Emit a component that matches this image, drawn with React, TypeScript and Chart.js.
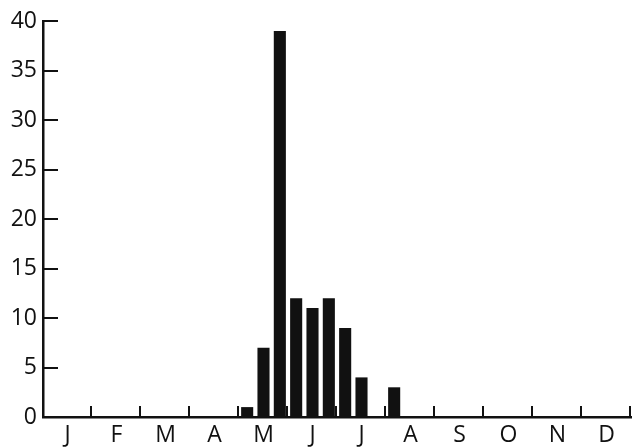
import React, { useEffect, useRef } from "react";
import { Chart, registerables } from "chart.js";

Chart.register(...registerables);

const MONTH_LETTERS = ["J", "F", "M", "A", "M", "J", "J", "A", "S", "O", "N", "D"];
const MONTH_NAMES = ["Jan", "Feb", "Mar", "Apr", "May", "Jun", "Jul", "Aug", "Sep", "Oct", "Nov", "Dec"];
const DEKADS = ["1", "2", "3"];
const CATEGORIES = MONTH_NAMES.flatMap((m) => DEKADS.map((d) => `${m} ${d}`));

// counts per 10-day period (three per month)
const JAN = [0, 0, 0];
const FEB = [0, 0, 0];
const MAR = [0, 0, 0];
const APR = [0, 0, 0];
const MAY = [1, 7, 39];
const JUN = [12, 11, 12];
const JUL = [9, 4, 0];
const AUG = [3, 0, 0];
const SEP = [0, 0, 0];
const OCT = [0, 0, 0];
const NOV = [0, 0, 0];
const DEC = [0, 0, 0];
const VALUES = [...JAN, ...FEB, ...MAR, ...APR, ...MAY, ...JUN, ...JUL, ...AUG, ...SEP, ...OCT, ...NOV, ...DEC];

const Y_MIN = 0;
const Y_MAX = 40;
const Y_STEP = 5;

const FONT = { family: "'Open Sans', 'Noto Sans', sans-serif", size: 23 };

const inwardTicks = {
  id: "inwardTicks",
  afterDraw(chart: any) {
    const { ctx } = chart;
    const x = chart.scales.x;
    const y = chart.scales.y;
    ctx.save();
    ctx.strokeStyle = "#111";
    ctx.lineWidth = 2;
    ctx.beginPath();
    // month boundary ticks on x axis (pointing up)
    for (let m = 1; m <= MONTH_LETTERS.length; m++) {
      const px = Math.round(x.getPixelForValue(m * DEKADS.length - 0.5)) - 1;
      ctx.moveTo(px, y.bottom);
      ctx.lineTo(px, y.bottom - 11);
    }
    // y ticks pointing right
    for (const t of y.ticks) {
      if (t.value === 0) continue;
      const py = Math.round(y.getPixelForValue(t.value));
      ctx.moveTo(x.left, py);
      ctx.lineTo(x.left + 15, py);
    }
    ctx.stroke();
    ctx.restore();
  },
};

export default function App() {
  const ref = useRef<HTMLCanvasElement | null>(null);

  useEffect(() => {
    if (!ref.current) return;
    const chart = new Chart(ref.current, {
      type: "bar",
      data: {
        labels: CATEGORIES,
        datasets: [
          {
            data: VALUES,
            backgroundColor: "#111",
            borderWidth: 0,
            categoryPercentage: 1,
            barPercentage: 0.74,
          },
        ],
      },
      options: {
        responsive: false,
        animation: false,
        layout: { padding: { top: 21, right: 1, left: 0, bottom: 0 } },
        plugins: {
          legend: { display: false },
          tooltip: { enabled: false },
        },
        scales: {
          x: {
            type: "category",
            offset: true,
            grid: { display: false, drawTicks: false, offset: true },
            border: { display: true, color: "#111", width: 2.5 },
            ticks: {
              autoSkip: false,
              maxRotation: 0,
              minRotation: 0,
              padding: 5,
              color: "#111",
              font: FONT,
              callback: (_v: any, i: number) =>
                i % DEKADS.length === 1 ? MONTH_LETTERS[Math.floor(i / DEKADS.length)] : "",
            },
            afterFit: (s: any) => {
              s.height = 30;
            },
          },
          y: {
            min: Y_MIN,
            max: Y_MAX,
            grid: { display: false, drawTicks: false },
            border: { display: true, color: "#111", width: 2.5 },
            ticks: {
              stepSize: Y_STEP,
              padding: 6,
              color: "#111",
              font: FONT,
            },
            afterFit: (s: any) => {
              s.width = 43;
            },
          },
        },
      },
      plugins: [inwardTicks],
    });
    return () => chart.destroy();
  }, []);

  return (
    <div style={{ position: "fixed", left: 0, top: 0, width: 632, height: 447, background: "#fff" }}>
      <canvas ref={ref} width={632} height={447} style={{ display: "block" }} />
    </div>
  );
}
